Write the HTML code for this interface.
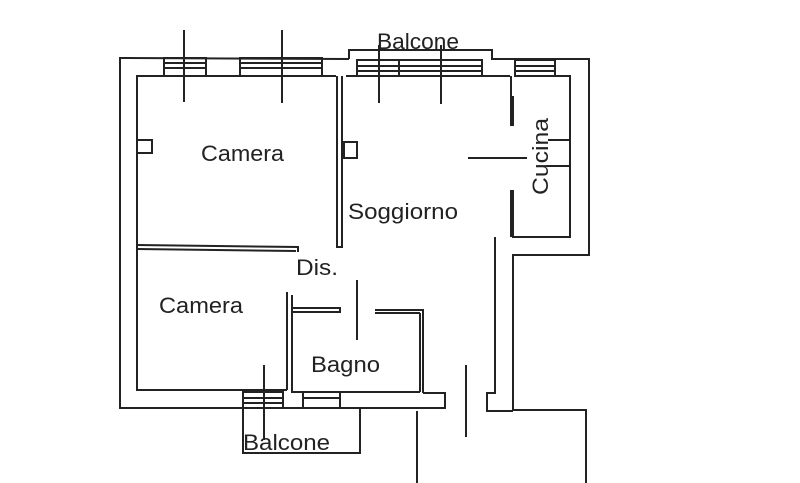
<!DOCTYPE html>
<html><head><style>html,body{margin:0;padding:0;background:#fff;width:800px;height:483px;overflow:hidden}</style></head>
<body>
<svg width="800" height="483" viewBox="0 0 800 483" xmlns="http://www.w3.org/2000/svg" style="position:absolute;left:0;top:0">
<g fill="none" stroke="#222" stroke-width="2">
<polyline points="349,59 349,50 492,50 492,59 589,59 589,255 513,255 513,410 586,410 586,483"/>
<polyline points="349,59 120,58 120,408 445,408 445,393 423,393"/>
<polyline points="164,76 137,76 137,390 287,390"/>
<line x1="164" y1="76" x2="336" y2="76"/>
<polyline points="346,76 510,76"/>
<polyline points="516,76 570,76 570,237 512,237"/>
<polyline points="495,237 495,393 487,393 487,411 513,411"/>
<line x1="417" y1="411" x2="417" y2="483"/>
<rect x="164" y="58" width="42" height="18"/>
<line x1="164" y1="63" x2="206" y2="63"/><line x1="164" y1="68" x2="206" y2="68"/>
<rect x="240" y="58" width="82" height="18"/>
<line x1="240" y1="63" x2="322" y2="63"/><line x1="240" y1="68" x2="322" y2="68"/>
<rect x="357" y="60" width="125" height="16"/>
<line x1="357" y1="66" x2="482" y2="66"/><line x1="357" y1="71" x2="482" y2="71"/>
<line x1="399" y1="60" x2="399" y2="76"/>
<rect x="515" y="60" width="40" height="16"/>
<line x1="515" y1="66" x2="555" y2="66"/><line x1="515" y1="71" x2="555" y2="71"/>
<line x1="184" y1="30" x2="184" y2="102"/>
<line x1="282" y1="30" x2="282" y2="103"/>
<line x1="379" y1="45" x2="379" y2="103"/>
<line x1="441" y1="45" x2="441" y2="104"/>
<line x1="264" y1="365" x2="264" y2="440"/>
<line x1="357" y1="280" x2="357" y2="340"/>
<line x1="466" y1="365" x2="466" y2="437"/>
<polyline points="337,76 337,247 342,247 342,76"/>
<polyline points="137,245 298,247 298,252"/>
<line x1="137" y1="249" x2="296" y2="251"/>
<polyline points="287,292 287,390"/>
<polyline points="292,295 292,392 420,392"/>
<polyline points="292,308 340,308 340,312 292,312"/>
<polyline points="375,310 423,310 423,393"/>
<line x1="375" y1="313" x2="420" y2="313"/><line x1="420" y1="313" x2="420" y2="392"/>
<line x1="511" y1="76" x2="511" y2="96"/>
<line x1="512" y1="96" x2="512" y2="126" stroke-width="4"/>
<line x1="512" y1="190" x2="512" y2="237" stroke-width="4"/>
<line x1="468" y1="158" x2="527" y2="158"/>
<line x1="548" y1="140" x2="570" y2="140"/><line x1="548" y1="166" x2="570" y2="166"/>
<rect x="137" y="140" width="15" height="13"/>
<rect x="344" y="142" width="13" height="16"/>
<rect x="243" y="392" width="40" height="16"/>
<line x1="243" y1="398" x2="283" y2="398"/><line x1="243" y1="403" x2="283" y2="403"/>
<rect x="303" y="392" width="37" height="16"/>
<line x1="303" y1="398" x2="340" y2="398"/>
<polyline points="243,408 243,453 360,453 360,408"/>
</g>
<g font-family="Liberation Sans, sans-serif" font-size="22" fill="#222">
<text x="377" y="49" textLength="82" lengthAdjust="spacingAndGlyphs">Balcone</text>
<text x="201" y="161" textLength="83" lengthAdjust="spacingAndGlyphs">Camera</text>
<text x="348" y="219" textLength="110" lengthAdjust="spacingAndGlyphs">Soggiorno</text>
<text x="296" y="275" textLength="42" lengthAdjust="spacingAndGlyphs">Dis.</text>
<text x="159" y="313" textLength="84" lengthAdjust="spacingAndGlyphs">Camera</text>
<text x="311" y="372" textLength="69" lengthAdjust="spacingAndGlyphs">Bagno</text>
<text x="243" y="450" textLength="87" lengthAdjust="spacingAndGlyphs">Balcone</text>
<text transform="translate(548,195) rotate(-90)" textLength="77" lengthAdjust="spacingAndGlyphs">Cucina</text>
</g>
</svg>
</body></html>
